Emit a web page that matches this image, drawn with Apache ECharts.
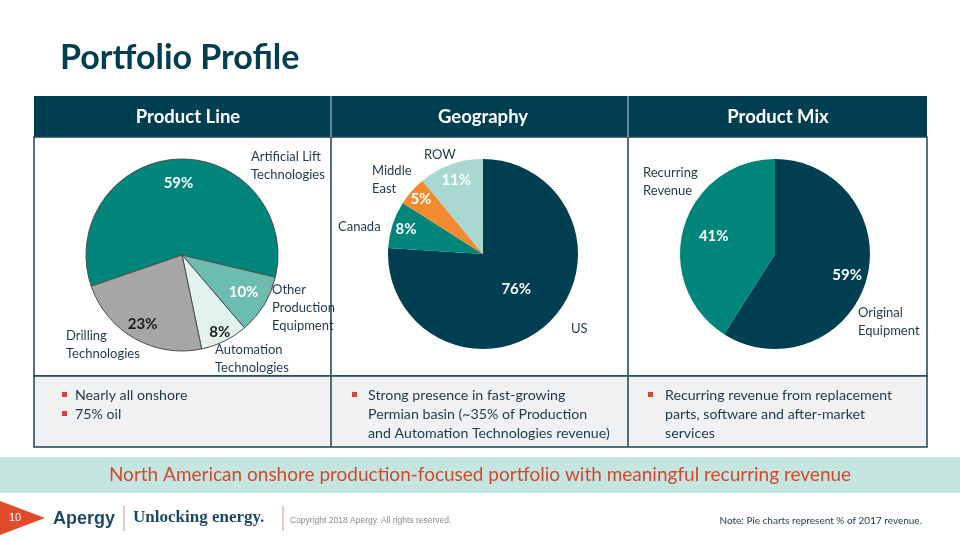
<!DOCTYPE html>
<html>
<head>
<meta charset="utf-8">
<script src="https://cdn.jsdelivr.net/npm/echarts@6/dist/echarts.min.js"></script>
<style>html,body{margin:0;padding:0;background:#fff;}#c{width:960px;height:540px;}</style>
</head>
<body>
<div id="c"></div>
<script>
// ---- data ----
const productLineNames = ['Artificial Lift Technologies', 'Other Production Equipment', 'Automation Technologies', 'Drilling Technologies'];
const productLineValues = [59, 10, 8, 23];
const geographyNames = ['US', 'Canada', 'Middle East', 'ROW'];
const geographyValues = [76, 8, 5, 11];
const productMixNames = ['Original Equipment', 'Recurring Revenue'];
const productMixValues = [59, 41];
const headers = ['Product Line', 'Geography', 'Product Mix'];
const bullets1 = ['Nearly all onshore', '75% oil'];
const bullets2 = ['Strong presence in fast-growing', 'Permian basin (~35% of Production', 'and Automation Technologies revenue)'];
const bullets3 = ['Recurring revenue from replacement', 'parts, software and after-market', 'services'];
const bulletStarts1 = [true, true];
const bulletStarts2 = [true, false, false];
const bulletStarts3 = [true, false, false];

// ---- styles ----
const DARK = '#003e51';
const TXT = '#1d3a4a';
const FONT = 'Lato, "Noto Sans", sans-serif';
const colors1 = ['#00857a', '#6cbdb0', '#e2f2ef', '#a6a6a6'];
const colors2 = ['#003e51', '#00857a', '#f28b30', '#a8d8cf'];
const colors3 = ['#003e51', '#00857a'];
const labelColors1 = ['#ffffff', '#ffffff', '#1a1a1a', '#1a1a1a'];
const labelColors2 = ['#ffffff', '#ffffff', '#ffffff', '#ffffff'];
const labelColors3 = ['#ffffff', '#ffffff'];
const labelK1 = [0.72, 0.72, 0.86, 0.8];
const labelK2 = [0.48, 0.82, 0.84, 0.8];
const labelK3 = [0.76, 0.64];

function buildPie(names, values, colors, center, r, startAngle, labelK, labelColors, border) {
  const out = [];
  out.push({
    type: 'pie', center: center, radius: r, startAngle: startAngle, clockwise: true,
    silent: true, z: 2, label: { show: false }, labelLine: { show: false },
    itemStyle: border,
    data: values.map((v, i) => ({ value: v, name: names[i], itemStyle: { color: colors[i] } }))
  });
  labelK.forEach((k, j) => {
    out.push({
      type: 'pie', center: center, radius: [0, 2 * k * r], startAngle: startAngle, clockwise: true,
      silent: true, z: 3, labelLine: { show: false },
      itemStyle: { color: 'rgba(0,0,0,0)', borderWidth: 0 },
      data: values.map((v, i) => ({
        value: v, name: names[i],
        label: { show: i === j, position: 'inside', formatter: '{c}%', color: labelColors[j],
                 fontSize: 15, fontWeight: 'bold', fontFamily: FONT }
      }))
    });
  });
  return out;
}

const series = [].concat(
  buildPie(productLineNames, productLineValues, colors1, [182, 255], 96, 199, labelK1, labelColors1, { borderColor: '#4d4d4d', borderWidth: 1 }),
  buildPie(geographyNames, geographyValues, colors2, [483, 254], 95, 90, labelK2, labelColors2, { borderWidth: 0 }),
  buildPie(productMixNames, productMixValues, colors3, [775, 254], 95, 90, labelK3, labelColors3, { borderWidth: 0 })
);

function txt(x, y, text, opt) {
  return Object.assign({ type: 'text', x: x, y: y, z: 10, silent: true,
    style: Object.assign({ text: text, fill: TXT, font: '13px ' + FONT, textVerticalAlign: 'middle', textAlign: 'left' }, opt || {}) });
}
function nameLabel(x, yCenter, lines) {
  return txt(x, yCenter, lines.join('\n'), { lineHeight: 18, font: '13px ' + FONT });
}

const elements = [];
// title
elements.push(txt(60, 58, 'Portfolio Profile', { fill: DARK, font: 'bold 34px ' + FONT }));
// table
elements.push({ type: 'rect', z: 0, shape: { x: 34, y: 96, width: 893, height: 41 }, style: { fill: DARK } });
elements.push({ type: 'rect', z: 0, shape: { x: 34, y: 137, width: 893, height: 239 }, style: { fill: '#ffffff', stroke: '#1f4556', lineWidth: 1.5 } });
elements.push({ type: 'rect', z: 0, shape: { x: 34, y: 376, width: 893, height: 71 }, style: { fill: '#eff1f2', stroke: '#1f4556', lineWidth: 1.5 } });
elements.push({ type: 'line', z: 1, shape: { x1: 331, y1: 96, x2: 331, y2: 447 }, style: { stroke: '#c9d3d7', lineWidth: 1 } });
elements.push({ type: 'line', z: 1, shape: { x1: 331, y1: 137, x2: 331, y2: 447 }, style: { stroke: '#1f4556', lineWidth: 1.5 } });
elements.push({ type: 'line', z: 1, shape: { x1: 628, y1: 96, x2: 628, y2: 447 }, style: { stroke: '#c9d3d7', lineWidth: 1 } });
elements.push({ type: 'line', z: 1, shape: { x1: 628, y1: 137, x2: 628, y2: 447 }, style: { stroke: '#1f4556', lineWidth: 1.5 } });
const headerX = [188, 483, 778];
headers.forEach((h, i) => elements.push(txt(headerX[i], 117, h, { fill: '#ffffff', font: 'bold 18.5px ' + FONT, textAlign: 'center' })));

// pie name labels
elements.push(nameLabel(251, 166, ['Artificial Lift', 'Technologies']));
elements.push(nameLabel(272, 308, ['Other', 'Production', 'Equipment']));
elements.push(nameLabel(66, 345, ['Drilling', 'Technologies']));
elements.push(nameLabel(215, 359, ['Automation', 'Technologies']));
elements.push(nameLabel(424, 155, ['ROW']));
elements.push(nameLabel(372, 180, ['Middle', 'East']));
elements.push(nameLabel(338, 227, ['Canada']));
elements.push(nameLabel(571, 329, ['US']));
elements.push(nameLabel(643, 182, ['Recurring', 'Revenue']));
elements.push(nameLabel(858, 322, ['Original', 'Equipment']));

// bullets
function addBullets(lines, starts, bx, tx) {
  lines.forEach((l, i) => {
    const y = 395 + i * 19;
    if (starts[i]) elements.push({ type: 'rect', z: 10, shape: { x: bx, y: y - 3, width: 5, height: 5 }, style: { fill: '#d4473a' } });
    elements.push(txt(tx, y, l, { font: '14.2px ' + FONT }));
  });
}
addBullets(bullets1, bulletStarts1, 62, 75);
addBullets(bullets2, bulletStarts2, 352, 368);
addBullets(bullets3, bulletStarts3, 648, 665);

// banner
elements.push({ type: 'rect', z: 0, shape: { x: 0, y: 457, width: 960, height: 36 }, style: { fill: '#c5e6e0' } });
elements.push(txt(480, 475, 'North American onshore production-focused portfolio with meaningful recurring revenue', { fill: '#d2472e', font: '19px ' + FONT, textAlign: 'center' }));

// footer
elements.push({ type: 'polygon', z: 1, shape: { points: [[0, 501], [45, 518], [0, 535]] }, style: { fill: '#e04b2a' } });
elements.push(txt(9, 518, '10', { fill: '#ffffff', font: '11px "Liberation Sans", Arial, sans-serif' }));
elements.push(txt(53, 519, 'Apergy', { fill: '#1b4b64', font: 'bold 18px "Liberation Sans", Arial, sans-serif' }));
elements.push({ type: 'line', z: 1, shape: { x1: 124, y1: 506, x2: 124, y2: 531 }, style: { stroke: '#c8917a', lineWidth: 1 } });
elements.push(txt(133, 518, 'Unlocking energy.', { fill: '#1b4b64', font: 'bold 17px "Liberation Serif", serif' }));
elements.push({ type: 'line', z: 1, shape: { x1: 283, y1: 506, x2: 283, y2: 531 }, style: { stroke: '#c8917a', lineWidth: 1 } });
elements.push(txt(290, 521, 'Copyright 2018 Apergy. All rights reserved.', { fill: '#8a8a8a', font: '8.5px "Liberation Sans", Arial, sans-serif' }));
elements.push(txt(922, 521, 'Note: Pie charts represent % of 2017 revenue.', { fill: TXT, font: '10px ' + FONT, textAlign: 'right' }));

const chart = echarts.init(document.getElementById('c'), null, { renderer: 'canvas' });
chart.setOption({
  animation: false,
  backgroundColor: '#ffffff',
  graphic: { elements: elements },
  series: series
});
</script>
</body>
</html>
